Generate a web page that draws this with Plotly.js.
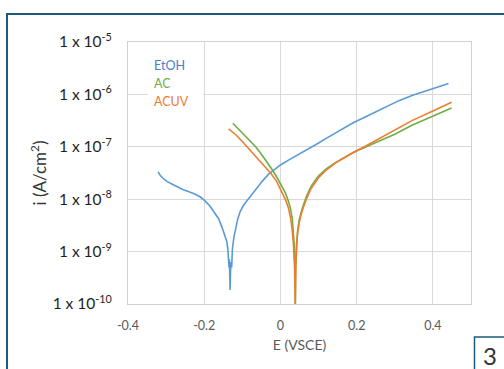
<!DOCTYPE html>
<html>
<head>
<meta charset="utf-8">
<script src="https://cdn.plot.ly/plotly-3.0.1.min.js"></script>
<style>
  html, body { margin: 0; padding: 0; background: #fff; }
  #chart { width: 504px; height: 369px; }
</style>
</head>
<body>
<div id="chart"></div>
<script>
// ---- data (potential E in V vs SCE, current density i in A/cm^2) ----
const etohE = [-0.321, -0.315, -0.308, -0.298, -0.285, -0.270, -0.255, -0.240, -0.225, -0.210, -0.198, -0.185, -0.172, -0.162, -0.154, -0.147, -0.141, -0.138, -0.137, -0.136, -0.135, -0.134, -0.132, -0.131, -0.130, -0.128, -0.126, -0.122, -0.117, -0.112, -0.106, -0.098, -0.089, -0.078, -0.063, -0.048, -0.031, -0.015, 0.000, 0.020, 0.040, 0.057, 0.080, 0.099, 0.120, 0.144, 0.170, 0.191, 0.225, 0.258, 0.285, 0.311, 0.345, 0.375, 0.400, 0.420, 0.441];
const etohI = [3.31e-8, 2.82e-8, 2.51e-8, 2.19e-8, 1.95e-8, 1.70e-8, 1.51e-8, 1.38e-8, 1.26e-8, 1.10e-8, 9.3e-9, 7.4e-9, 5.5e-9, 4.2e-9, 3.0e-9, 2.19e-9, 1.58e-9, 1.12e-9, 6.3e-10, 8.9e-10, 5.0e-10, 7.1e-10, 1.86e-10, 4.0e-10, 6.3e-10, 5.0e-10, 1.12e-9, 1.91e-9, 3.0e-9, 4.2e-9, 5.75e-9, 7.4e-9, 9.1e-9, 1.17e-8, 1.58e-8, 2.19e-8, 3.0e-8, 3.7e-8, 4.5e-8, 5.5e-8, 6.6e-8, 7.8e-8, 9.8e-8, 1.17e-7, 1.45e-7, 1.82e-7, 2.34e-7, 2.88e-7, 3.8e-7, 5.0e-7, 6.2e-7, 7.6e-7, 9.5e-7, 1.12e-6, 1.29e-6, 1.45e-6, 1.62e-6];

const acE = [-0.125, -0.110, -0.095, -0.080, -0.065, -0.050, -0.035, -0.021, -0.008, 0.003, 0.013, 0.020, 0.026, 0.031, 0.034, 0.036, 0.038, 0.039, 0.040, 0.042, 0.045, 0.049, 0.057, 0.068, 0.080, 0.099, 0.120, 0.144, 0.170, 0.191, 0.225, 0.258, 0.300, 0.345, 0.400, 0.449];
const acI = [2.82e-7, 2.19e-7, 1.70e-7, 1.32e-7, 1.0e-7, 7.2e-8, 5.1e-8, 3.6e-8, 2.51e-8, 1.82e-8, 1.32e-8, 9.5e-9, 6.8e-9, 4.2e-9, 2.51e-9, 1.41e-9, 5.0e-10, 8.9e-11, 5.0e-10, 1.41e-9, 2.51e-9, 4.0e-9, 6.6e-9, 1.12e-8, 1.74e-8, 2.75e-8, 3.8e-8, 5.0e-8, 6.5e-8, 7.8e-8, 1.0e-7, 1.26e-7, 1.74e-7, 2.57e-7, 3.8e-7, 5.5e-7];

const acuvE = [-0.136, -0.117, -0.100, -0.085, -0.073, -0.050, -0.026, -0.010, 0.005, 0.014, 0.021, 0.027, 0.031, 0.034, 0.037, 0.039, 0.040, 0.042, 0.045, 0.050, 0.057, 0.068, 0.080, 0.099, 0.120, 0.144, 0.170, 0.191, 0.225, 0.258, 0.300, 0.345, 0.400, 0.449];
const acuvI = [2.19e-7, 1.70e-7, 1.26e-7, 9.5e-8, 7.6e-8, 5.0e-8, 3.16e-8, 2.19e-8, 1.32e-8, 9.5e-9, 6.8e-9, 4.2e-9, 2.51e-9, 1.41e-9, 5.0e-10, 1.0e-10, 5.0e-10, 1.41e-9, 2.24e-9, 3.8e-9, 6.0e-9, 1.0e-8, 1.58e-8, 2.51e-8, 3.6e-8, 4.9e-8, 6.3e-8, 7.8e-8, 1.05e-7, 1.41e-7, 2.09e-7, 3.16e-7, 4.8e-7, 7.1e-7];

const seriesNames = ['EtOH', 'AC', 'ACUV'];
const seriesColors = ['#5B9BD5', '#70AD47', '#ED7D31'];
const legendTextColors = ['#4A7DC9', '#70AD47', '#ED7D31'];

const xTickVals = [-0.4, -0.2, 0, 0.2, 0.4];
const xTickText = ['-0.4', '-0.2', '0', '0.2', '0.4'];
const yTickVals = [1e-10, 1e-9, 1e-8, 1e-7, 1e-6, 1e-5];
const yTickText = ['1 x 10<sup>-10</sup>', '1 x 10<sup>-9</sup>', '1 x 10<sup>-8</sup>', '1 x 10<sup>-7</sup>', '1 x 10<sup>-6</sup>', '1 x 10<sup>-5</sup>'];

const FONT = 'Lato, "Liberation Sans", Arial, sans-serif';

const xs = [etohE, acE, acuvE];
const ys = [etohI, acI, acuvI];
const traces = xs.map((x, k) => ({
  x: x, y: ys[k], type: 'scatter', mode: 'lines', name: seriesNames[k],
  line: { color: seriesColors[k], width: 1.6 }, showlegend: false, cliponaxis: true
}));

// paper-coordinate helpers for the 343x262 plot area at (128,42)
const px = v => (v - 128) / 343;
const py = v => (304 - v) / 262;

const legendY = [65, 83, 101];
const annotations = seriesNames.map((n, k) => ({
  xref: 'paper', yref: 'paper', x: px(152), y: py(legendY[k]),
  xanchor: 'left', yanchor: 'middle', showarrow: false,
  text: n, font: { family: FONT, size: 12.5, color: legendTextColors[k] }
}));
annotations.push({
  xref: 'paper', yref: 'paper', x: px(490), y: py(355),
  xanchor: 'center', yanchor: 'middle', showarrow: false,
  text: '3', font: { family: FONT, size: 24, color: '#333333' }
});

const layout = {
  width: 504, height: 369,
  margin: { l: 128, r: 33, t: 42, b: 65 },
  paper_bgcolor: '#ffffff', plot_bgcolor: '#ffffff',
  font: { family: FONT, color: '#404040' },
  xaxis: {
    range: [-0.4, 0.5], tickvals: xTickVals, ticktext: xTickText,
    showgrid: true, gridcolor: '#d9d9d9', gridwidth: 1, zeroline: false,
    showline: true, mirror: true, linecolor: '#d0d0d0', linewidth: 1,
    ticks: '', ticklabelstandoff: 10,
    tickfont: { family: FONT, size: 12.5, color: '#595959' },
    title: { text: 'E (VSCE)', font: { family: FONT, size: 14, color: '#595959' }, standoff: 8 }
  },
  yaxis: {
    type: 'log', range: [-10, -5], tickvals: yTickVals, ticktext: yTickText,
    showgrid: true, gridcolor: '#d9d9d9', gridwidth: 1, zeroline: false,
    showline: true, mirror: true, linecolor: '#d0d0d0', linewidth: 1,
    ticks: '', ticklabelstandoff: 12,
    tickfont: { family: FONT, size: 15.5, color: '#1f1f1f' },
    title: { text: 'i (A/cm<sup>2</sup>)', font: { family: FONT, size: 17, color: '#333333' }, standoff: 1 }
  },
  shapes: [
    { type: 'rect', xref: 'paper', yref: 'paper', x0: px(7), x1: px(520), y0: py(385), y1: py(14),
      line: { color: '#1E5B7B', width: 2 }, fillcolor: 'rgba(0,0,0,0)', layer: 'above' },
    { type: 'rect', xref: 'paper', yref: 'paper', x0: px(148), x1: px(203), y0: py(110), y1: py(55),
      line: { width: 0 }, fillcolor: '#ffffff', layer: 'above' },
    { type: 'rect', xref: 'paper', yref: 'paper', x0: px(474.5), x1: px(520), y0: py(385), y1: py(337),
      line: { color: '#1E5B7B', width: 1.5 }, fillcolor: '#ffffff', layer: 'above' }
  ],
  annotations: annotations
};

Plotly.newPlot('chart', traces, layout, { displayModeBar: false, staticPlot: true });
</script>
</body>
</html>
